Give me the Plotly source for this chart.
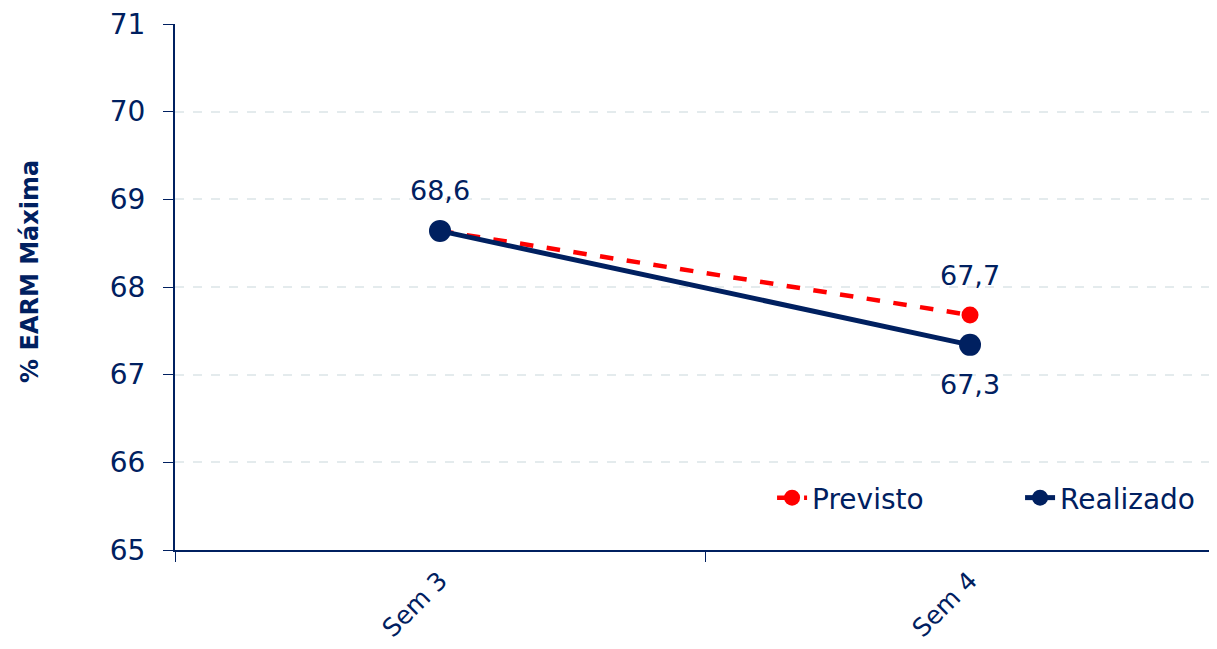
import plotly.graph_objects as go

categories = ["Sem 3", "Sem 4"]
previsto = [68.64, 67.68]
realizado = [68.64, 67.34]
previsto_labelled = [False, True]
previsto_label_shift = [40, 40]
realizado_label_shift = [40, -40]
y_ticks = [65, 66, 67, 68, 69, 70, 71]
y_title = "<b>% EARM Máxima</b>"

NAVY = "#002060"
RED = "#FF0000"
FONT = "DejaVu Sans"


def fmt(v):
    return f"{v:.1f}".replace(".", ",")


fig = go.Figure()
fig.add_trace(go.Scatter(
    x=categories, y=previsto, name="Previsto", mode="lines+markers",
    line=dict(color=RED, width=4.5, dash="dash"),
    marker=dict(color=RED, size=17),
    cliponaxis=False, legend="legend",
))
fig.add_trace(go.Scatter(
    x=categories, y=realizado, name="Realizado", mode="lines+markers",
    line=dict(color=NAVY, width=5),
    marker=dict(color=NAVY, size=22),
    cliponaxis=False, legend="legend2",
))

for c, v, show, s in zip(categories, previsto, previsto_labelled, previsto_label_shift):
    if show:
        fig.add_annotation(x=c, y=v, text=fmt(v), showarrow=False, yshift=s,
                           font=dict(family=FONT, size=27, color=NAVY))
for c, v, s in zip(categories, realizado, realizado_label_shift):
    fig.add_annotation(x=c, y=v, text=fmt(v), showarrow=False, yshift=s,
                       font=dict(family=FONT, size=27, color=NAVY))

fig.add_annotation(xref="paper", yref="paper", x=-0.139, y=0.529, text=y_title,
                   textangle=-90, showarrow=False, xanchor="center", yanchor="middle",
                   font=dict(family=FONT, size=24, color=NAVY))

legend_style = dict(orientation="h", xanchor="left", y=0.099, yanchor="middle",
                    font=dict(family=FONT, size=28, color=NAVY), bgcolor="rgba(0,0,0,0)")

fig.update_layout(
    width=1209, height=641,
    margin=dict(l=167, r=0, t=16, b=99),
    paper_bgcolor="white", plot_bgcolor="white",
    font=dict(family=FONT, size=27, color=NAVY),
    showlegend=True,
    legend=dict(x=0.573, **legend_style),
    legend2=dict(x=0.811, **legend_style),
    xaxis=dict(
        type="category", range=[-0.5, 1.466],
        showline=True, linecolor=NAVY, linewidth=2,
        ticks="outside", ticklen=10, tickcolor=NAVY, tickwidth=1,
        tickson="boundaries", tickangle=-45, ticklabelstandoff=4,
        tickfont=dict(family=FONT, size=25, color=NAVY),
        showgrid=False, zeroline=False,
    ),
    yaxis=dict(
        range=[65, 71], tickvals=y_ticks,
        showline=True, linecolor=NAVY, linewidth=2,
        ticks="outside", ticklen=10, tickcolor=NAVY, tickwidth=1,
        ticklabelstandoff=12, ticklabeloverflow="allow",
        tickfont=dict(family=FONT, size=28, color=NAVY),
        showgrid=True, gridcolor="#e4ebed", griddash="dash", gridwidth=1.5,
        zeroline=False,
    ),
)

fig.write_html("out.html")
